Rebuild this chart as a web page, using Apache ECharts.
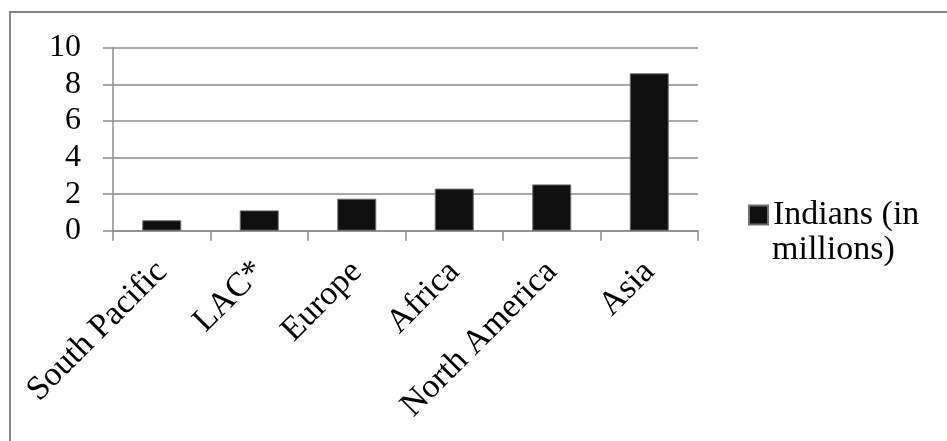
<!DOCTYPE html>
<html>
<head>
<meta charset="utf-8">
<script src="https://cdn.jsdelivr.net/npm/echarts@6/dist/echarts.min.js"></script>
<style>
  html, body { margin: 0; padding: 0; background: #fff; }
  #chart { width: 947px; height: 441px; }
</style>
</head>
<body>
<div id="chart"></div>
<script>
// Indian diaspora by region (millions)
const regions = ['South Pacific', 'LAC*', 'Europe', 'Africa', 'North America', 'Asia'];
const indiansMillions = [0.57, 1.11, 1.75, 2.3, 2.53, 8.6];
const yTicks = [0, 2, 4, 6, 8, 10];
// legend caption wraps onto two lines, the swatch sits beside the first
const legendLines = ['Indians (in', 'millions)'];
const seriesName = legendLines.join(' ');

const FONT = '"Liberation Serif", "Times New Roman", serif';
const GRID_COLOR = '#8c8c8c';

const LEGEND_LEFT = 748;
const LEGEND_TOP = 198;
const SWATCH = 19;
const LEGEND_FONT = 34;
const LEGEND_LINE = 38;
const FIRST_LINE_MID = 212;

const chart = echarts.init(document.getElementById('chart'), null, { renderer: 'canvas' });

chart.setOption({
  backgroundColor: '#ffffff',
  animation: false,
  graphic: [
    {
      type: 'rect',
      shape: { x: 10, y: 12, width: 960, height: 460 },
      style: { fill: 'none', stroke: '#868686', lineWidth: 2 },
      silent: true
    },
    {
      type: 'text',
      x: LEGEND_LEFT + SWATCH + 5,
      y: FIRST_LINE_MID + LEGEND_LINE,
      style: {
        text: legendLines[1],
        font: LEGEND_FONT + 'px ' + FONT,
        fill: '#000',
        align: 'left',
        verticalAlign: 'middle'
      },
      silent: true
    }
  ],
  grid: { left: 113, top: 47.7, right: 249, bottom: 210.3, containLabel: false },
  legend: {
    data: [seriesName],
    formatter: () => legendLines[0],
    left: LEGEND_LEFT,
    top: LEGEND_TOP,
    padding: 0,
    icon: 'rect',
    itemWidth: SWATCH,
    itemHeight: SWATCH,
    textStyle: {
      fontFamily: FONT,
      fontSize: LEGEND_FONT,
      color: '#000'
    }
  },
  xAxis: {
    type: 'category',
    data: regions,
    boundaryGap: true,
    axisLine: { show: true, lineStyle: { color: GRID_COLOR, width: 1.5 } },
    axisTick: { show: true, length: 10, alignWithLabel: false, lineStyle: { color: GRID_COLOR, width: 1.5 } },
    axisLabel: {
      interval: 0,
      rotate: 45,
      margin: 36,
      fontFamily: FONT,
      fontSize: 34,
      color: '#000'
    }
  },
  yAxis: {
    type: 'value',
    min: yTicks[0],
    max: yTicks[yTicks.length - 1],
    interval: yTicks[1] - yTicks[0],
    axisLine: { show: true, lineStyle: { color: GRID_COLOR, width: 1.5 } },
    axisTick: { show: true, length: 10, lineStyle: { color: GRID_COLOR, width: 1.5 } },
    splitLine: { show: true, lineStyle: { color: GRID_COLOR, width: 1.5 } },
    axisLabel: {
      margin: 32,
      fontFamily: FONT,
      fontSize: 32,
      color: '#000'
    }
  },
  series: [{
    name: seriesName,
    type: 'bar',
    data: indiansMillions,
    barWidth: '40%',
    itemStyle: { color: '#0f0f0f', borderColor: '#6e6e6e', borderWidth: 1 }
  }]
});
</script>
</body>
</html>
